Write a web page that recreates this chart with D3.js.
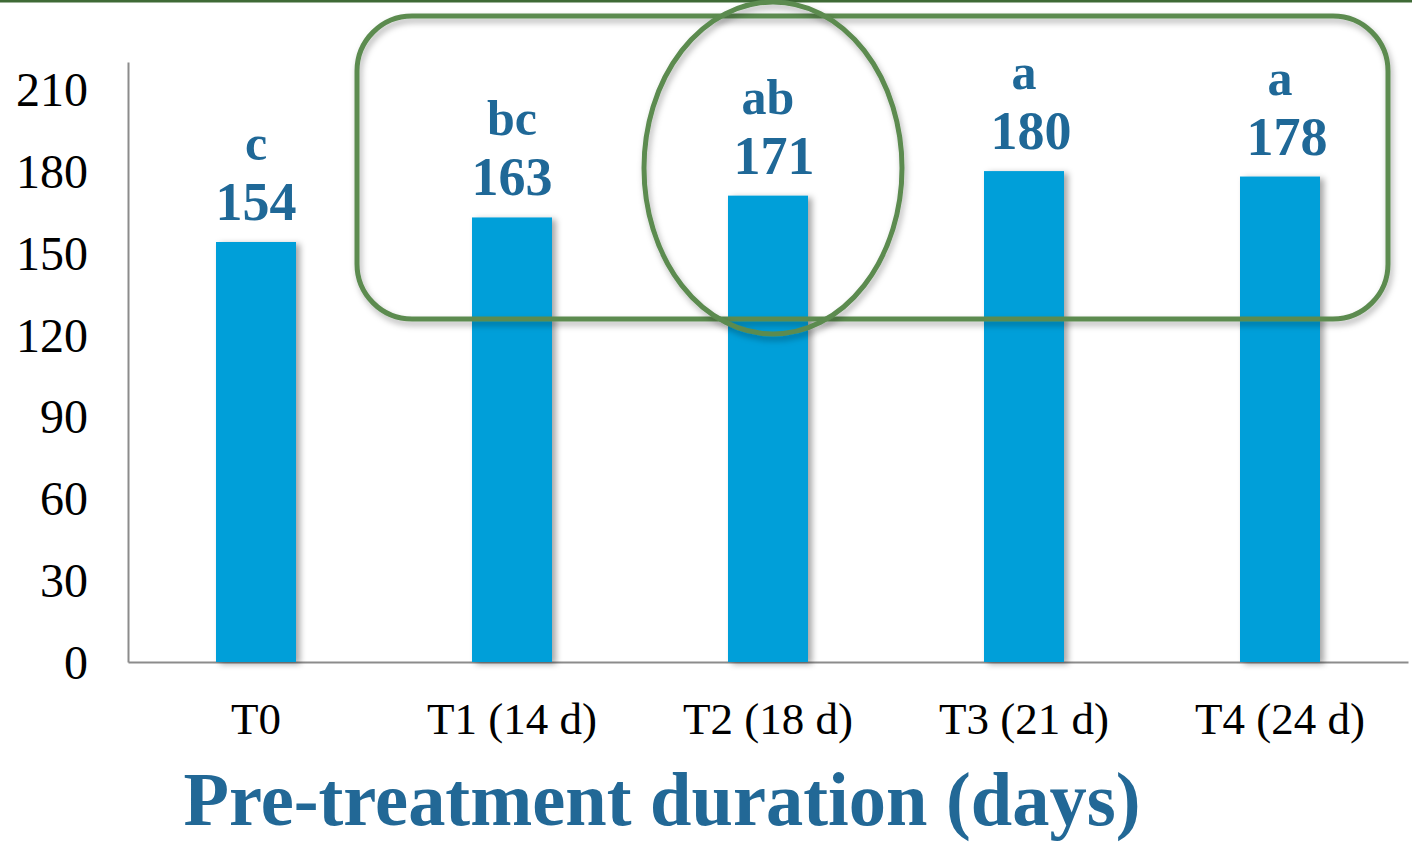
<!DOCTYPE html>
<html><head><meta charset="utf-8">
<script src="https://cdn.jsdelivr.net/npm/d3@7"></script>
<style>body{margin:0;background:#fff}svg{display:block}</style>
</head><body>
<svg id="c" width="1412" height="843"></svg>
<script>
const categories = ["T0", "T1 (14 d)", "T2 (18 d)", "T3 (21 d)", "T4 (24 d)"];
const values = [154, 163, 171, 180, 178];
const letters = ["c", "bc", "ab", "a", "a"];
const yTicks = [0, 30, 60, 90, 120, 150, 180, 210];
const xTitle = "Pre-treatment duration (days)";

(function(){
const svg = d3.select("#c");
const W = 1412, H = 843;
const mLeft = 128, mRight = 1408, mBottom = 662, mTop = 62;

const defs = svg.append("defs");
const f = defs.append("filter").attr("id","sh").attr("x","-20%").attr("y","-5%").attr("width","150%").attr("height","115%");
f.append("feDropShadow").attr("dx",4).attr("dy",2).attr("stdDeviation",3).attr("flood-color","#000").attr("flood-opacity",0.35);
const f2 = defs.append("filter").attr("id","sh2").attr("x","-10%").attr("y","-10%").attr("width","120%").attr("height","130%");
f2.append("feDropShadow").attr("dx",2).attr("dy",4).attr("stdDeviation",3).attr("flood-color","#000").attr("flood-opacity",0.3);

// top border line
svg.append("rect").attr("x",0).attr("y",0).attr("width",W).attr("height",2.5).attr("fill","#3f6a36");

const x = d3.scaleBand().domain(categories).range([mLeft, mRight]).padding(0);
const y = d3.scaleLinear().domain([0, 220]).range([mBottom, mTop]);
const bw = x.bandwidth() * 0.3125;

// y axis
const yAxis = d3.axisLeft(y).tickValues(yTicks).tickSize(0).tickPadding(40);
const gy = svg.append("g").attr("transform", `translate(${mLeft},0)`).call(yAxis);
gy.select(".domain").attr("stroke","#8c8c8c").attr("stroke-width",2);
gy.selectAll("text").attr("font-family","'Liberation Serif', 'Times New Roman', serif").attr("font-size",48).attr("fill","#000").attr("dy","0.34em");

// x axis
const xAxis = d3.axisBottom(x).tickSize(0).tickPadding(40);
const gx = svg.append("g").attr("transform", `translate(0,${mBottom})`).call(xAxis);
gx.select(".domain").attr("stroke","#8c8c8c").attr("stroke-width",2);
gx.selectAll("text").attr("font-family","'Liberation Serif', 'Times New Roman', serif").attr("font-size",45).attr("fill","#000");

// bars
svg.selectAll("rect.bar").data(values).join("rect").attr("class","bar")
  .attr("x",(d,i)=>x(categories[i]) + x.bandwidth()/2 - bw/2)
  .attr("y",d=>y(d)).attr("width",bw).attr("height",d=>y(0)-y(d))
  .attr("fill","#009fd9").attr("filter","url(#sh)");

// value labels
const labelShift = [0, 0, 6, 7, 7];
svg.selectAll("text.val").data(values).join("text").attr("class","val")
  .attr("x",(d,i)=>x(categories[i]) + x.bandwidth()/2 + labelShift[i])
  .attr("y",d=>y(d)-22)
  .attr("text-anchor","middle").attr("font-family","'Liberation Serif', serif").attr("font-weight","bold")
  .attr("font-size",54).attr("fill","#1f6897").text(d=>d);
svg.selectAll("text.let").data(letters).join("text").attr("class","let")
  .attr("x",(d,i)=>x(categories[i]) + x.bandwidth()/2)
  .attr("y",(d,i)=>y(values[i])-82)
  .attr("text-anchor","middle").attr("font-family","'Liberation Serif', serif").attr("font-weight","bold")
  .attr("font-size",50).attr("fill","#1f6897").text(d=>d);

// x title
svg.append("text").attr("x",662).attr("y",825).attr("text-anchor","middle")
  .attr("font-family","'Liberation Serif', serif").attr("font-weight","bold").attr("font-size",76)
  .attr("textLength",957).attr("lengthAdjust","spacingAndGlyphs")
  .attr("fill","#226896").text(xTitle);

// annotations
const rx0 = x(categories[1]) - 27, rx1 = x(categories[4]) + x.bandwidth() - 20;
svg.append("rect").attr("x",rx0).attr("y",16).attr("width",rx1-rx0).attr("height",303)
  .attr("rx",55).attr("ry",55).attr("fill","none").attr("stroke","#5b8b50").attr("stroke-width",5).attr("filter","url(#sh2)");
svg.append("ellipse").attr("cx",x(categories[2]) + x.bandwidth()/2 + 5).attr("cy",168).attr("rx",129).attr("ry",166)
  .attr("fill","none").attr("stroke","#5b8b50").attr("stroke-width",5).attr("filter","url(#sh2)");
})();
</script>
</body></html>
